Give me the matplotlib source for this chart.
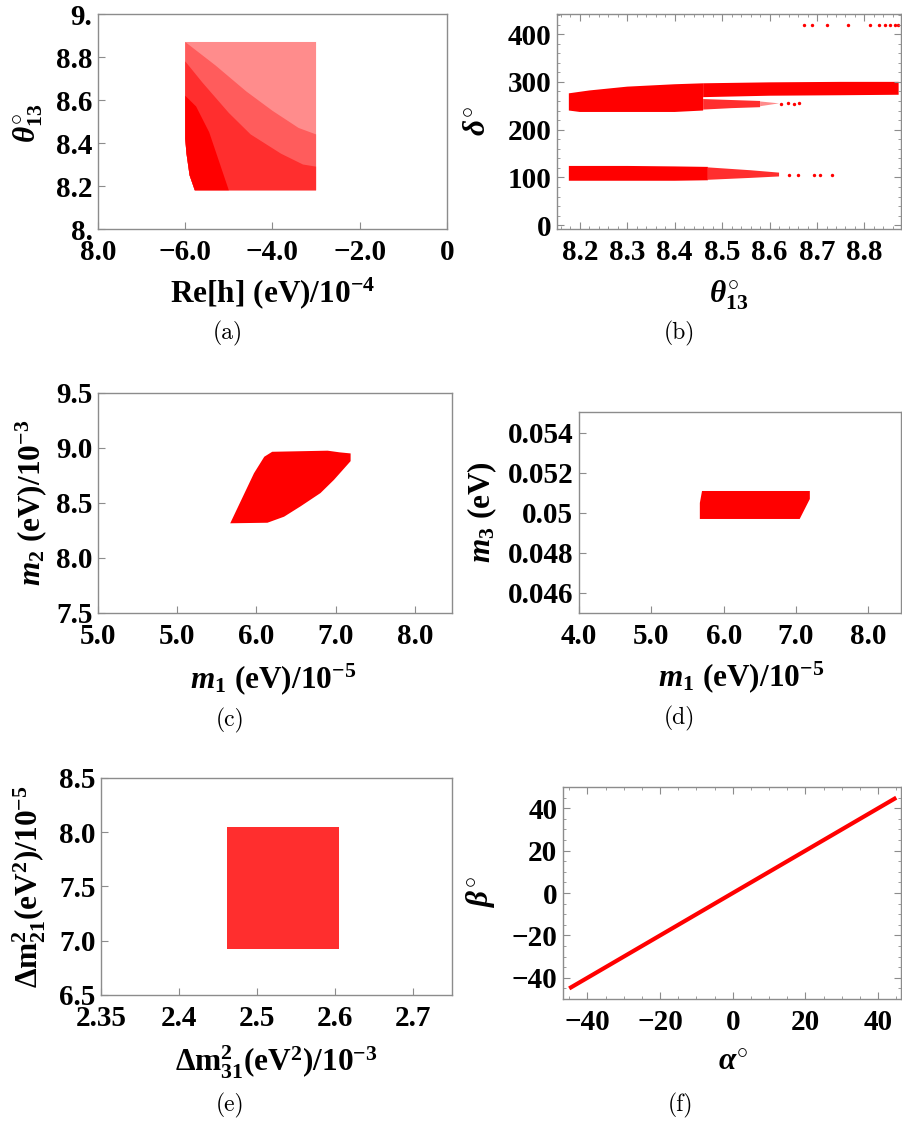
import matplotlib
matplotlib.use("Agg")
import matplotlib.pyplot as plt
from matplotlib.ticker import MultipleLocator

plt.rcParams['font.family'] = ['Liberation Serif', 'DejaVu Serif']
plt.rcParams['font.weight'] = 'bold'
plt.rcParams['mathtext.fontset'] = 'custom'
plt.rcParams['mathtext.rm'] = 'Liberation Serif:bold'
plt.rcParams['mathtext.it'] = 'Liberation Serif:italic:bold'
plt.rcParams['mathtext.bf'] = 'Liberation Serif:bold'

RED = '#ff0000'
MID = '#ff2e2e'
MID2 = '#ff5c5c'
LIGHT = '#ff8c8c'
GRAY = '#8c8c8c'

# ---- (a) Re[h] vs theta13: scatter cloud outlines, by point density
a_sparse_x = [-6.0, -3.0, -3.0, -5.78, -5.9, -5.97, -6.0]
a_sparse_y = [8.87, 8.87, 8.18, 8.18, 8.25, 8.35, 8.42]
a_mid2_x = [-6.0, -5.3, -4.6, -4.0, -3.4, -3.0, -3.0, -5.78, -5.9, -5.97, -6.0]
a_mid2_y = [8.87, 8.76, 8.64, 8.55, 8.47, 8.44, 8.18, 8.18, 8.25, 8.35, 8.42]
a_mid_x = [-6.0, -5.6, -5.0, -4.5, -3.8, -3.3, -3.0, -3.0, -5.78, -5.9, -5.97, -6.0]
a_mid_y = [8.78, 8.68, 8.54, 8.44, 8.35, 8.3, 8.29, 8.18, 8.18, 8.25, 8.35, 8.42]
a_dense_x = [-6.0, -5.75, -5.45, -5.2, -5.0, -5.78, -5.9, -5.97, -6.0]
a_dense_y = [8.62, 8.57, 8.45, 8.3, 8.18, 8.18, 8.25, 8.35, 8.42]

# ---- (b) theta13 vs delta: bands
b_up_x = [8.177, 8.22, 8.3, 8.4, 8.46, 8.46, 8.4, 8.3, 8.2, 8.177]
b_up_y = [276, 282, 290, 295, 297, 240, 237, 237, 237, 240]
b_branch_x = [8.46, 8.6, 8.75, 8.872, 8.872, 8.75, 8.6, 8.46]
b_branch_y = [297, 299, 300, 300, 273, 272, 271, 268]
b_low_branch_x = [8.46, 8.52, 8.58, 8.58, 8.52, 8.46]
b_low_branch_y = [264, 262, 260, 247, 245, 242]
b_low_tail_x = [8.58, 8.62, 8.58]
b_low_tail_y = [259, 255, 249]
b_band100_x = [8.177, 8.3, 8.4, 8.47, 8.47, 8.4, 8.3, 8.177]
b_band100_y = [124, 124, 123, 122, 94, 93, 93, 93]
b_band100_tail_x = [8.47, 8.56, 8.62, 8.62, 8.56, 8.47]
b_band100_tail_y = [121, 115, 110, 102, 99, 95]
b_dots_x = [8.624, 8.638, 8.652, 8.662,
            8.64, 8.66, 8.694, 8.706, 8.731,
            8.672, 8.690, 8.721, 8.766, 8.812, 8.831, 8.843, 8.854, 8.864, 8.871]
b_dots_y = [254, 255, 254, 255,
            106, 106, 104, 104, 104,
            420, 420, 420, 420, 420, 420, 420, 420, 420, 420]

# ---- (c) m1 vs m2
c_x = [5.67, 5.97, 6.10, 6.20, 6.90, 7.05, 7.19, 7.19, 6.98, 6.81, 6.56, 6.35, 6.14, 5.67]
c_y = [8.315, 8.77, 8.92, 8.965, 8.975, 8.96, 8.95, 8.88, 8.71, 8.59, 8.47, 8.375, 8.32, 8.315]

# ---- (d) m1 vs m3
d_x = [5.67, 5.67, 5.70, 7.19, 7.19, 7.05]
d_y = [0.0497, 0.0505, 0.0511, 0.0511, 0.0507, 0.0497]

# ---- (e) dm31 vs dm21
e_x = [2.462, 2.605, 2.605, 2.462]
e_y = [6.92, 6.92, 8.05, 8.05]

# ---- (f) alpha vs beta
f_alpha = [-45, 45]
f_beta = [-45, 45]

TICK_FS = 21
LAB_FS = 22.5

fig = plt.figure(figsize=(9.02, 11.22), dpi=100)


def style(ax, allsides=False):
    for s in ax.spines.values():
        s.set_color(GRAY)
        s.set_linewidth(1.0)
    ax.tick_params(which='major', direction='in', length=5, width=0.8, color=GRAY,
                   labelsize=TICK_FS, pad=4, top=allsides, right=allsides)
    ax.tick_params(axis='x', which='major', pad=7)
    ax.tick_params(which='minor', direction='in', length=2.5, width=0.6, color=GRAY,
                   top=allsides, right=allsides)
    for lab in ax.get_xticklabels() + ax.get_yticklabels():
        lab.set_fontweight('bold')


def labels(ax, xl, xpos, yl, ypos):
    ax.text(xpos[0], xpos[1], xl, transform=ax.transAxes, ha='center', va='center',
            fontsize=LAB_FS)
    ax.text(ypos[0], ypos[1], yl, transform=ax.transAxes, ha='center', va='center',
            fontsize=LAB_FS, rotation=90)


# (a)
ax = fig.add_axes([0.1086, 0.7959, 0.3869, 0.1916])
ax.fill(a_sparse_x, a_sparse_y, color=LIGHT, lw=0)
ax.fill(a_mid2_x, a_mid2_y, color=MID2, lw=0)
ax.fill(a_mid_x, a_mid_y, color=MID, lw=0)
ax.fill(a_dense_x, a_dense_y, color=RED, lw=0)
ax.set_xlim(-8, 0)
ax.set_ylim(8, 9)
ax.set_xticks([-8, -6, -4, -2, 0], ['8.0', '\u22126.0', '\u22124.0', '\u22122.0', '0'])
ax.set_yticks([8, 8.2, 8.4, 8.6, 8.8, 9], ['8.', '8.2', '8.4', '8.6', '8.8', '9.'])
style(ax)
labels(ax, r'$\mathrm{Re[h]\ (eV)/10^{-4}}$', (0.5, -0.30),
       r'$\theta^{\circ}_{13}$', (-0.20, 0.49))

# (b)
ax = fig.add_axes([0.6175, 0.7959, 0.3814, 0.1916])
ax.fill(b_up_x, b_up_y, color=RED, lw=0)
ax.fill(b_branch_x, b_branch_y, color=RED, lw=0)
ax.fill(b_low_branch_x, b_low_branch_y, color=MID, lw=0)
ax.fill(b_low_tail_x, b_low_tail_y, color=LIGHT, lw=0)
ax.fill(b_band100_x, b_band100_y, color=RED, lw=0)
ax.fill(b_band100_tail_x, b_band100_tail_y, color=MID, lw=0)
ax.scatter(b_dots_x, b_dots_y, s=6, color=RED, lw=0)
ax.set_xlim(8.152, 8.877)
ax.set_ylim(-8, 442)
ax.set_xticks([8.2, 8.3, 8.4, 8.5, 8.6, 8.7, 8.8])
ax.set_yticks([0, 100, 200, 300, 400])
ax.xaxis.set_minor_locator(MultipleLocator(0.02))
ax.yaxis.set_minor_locator(MultipleLocator(20))
style(ax, allsides=True)
labels(ax, r'$\theta^{\circ}_{13}$', (0.5, -0.31),
       r'$\delta^{\circ}$', (-0.23, 0.50))

# (c)
ax = fig.add_axes([0.1086, 0.4537, 0.3925, 0.1961])
ax.fill(c_x, c_y, color=RED, lw=0)
ax.set_xlim(4, 8.47)
ax.set_ylim(7.5, 9.5)
ax.set_xticks([4, 5, 6, 7, 8], ['5.0', '5.0', '6.0', '7.0', '8.0'])
ax.set_yticks([7.5, 8.0, 8.5, 9.0, 9.5], ['7.5', '8.0', '8.5', '9.0', '9.5'])
style(ax)
labels(ax, r'$m_1\ \mathrm{(eV)/10^{-5}}$', (0.494, -0.30),
       r'$m_2\ \mathrm{(eV)/10^{-3}}$', (-0.19, 0.5))

# (d)
ax = fig.add_axes([0.6419, 0.4537, 0.3570, 0.1791])
ax.fill(d_x, d_y, color=RED, lw=0)
ax.set_xlim(4, 8.45)
ax.set_ylim(0.045, 0.05505)
ax.set_xticks([4, 5, 6, 7, 8], ['4.0', '5.0', '6.0', '7.0', '8.0'])
ax.set_yticks([0.046, 0.048, 0.05, 0.052, 0.054],
              ['0.046', '0.048', '0.05', '0.052', '0.054'])
style(ax)
labels(ax, r'$m_1\ \mathrm{(eV)/10^{-5}}$', (0.503, -0.32),
       r'$m_3\ \mathrm{(eV)}$', (-0.30, 0.5))

# (e)
ax = fig.add_axes([0.1120, 0.1132, 0.3891, 0.1934])
ax.fill(e_x, e_y, color=MID, lw=0)
ax.set_xlim(2.3, 2.75)
ax.set_ylim(6.5, 8.5)
ax.set_xticks([2.3, 2.4, 2.5, 2.6, 2.7], ['2.35', '2.4', '2.5', '2.6', '2.7'])
ax.set_yticks([6.5, 7.0, 7.5, 8.0, 8.5], ['6.5', '7.0', '7.5', '8.0', '8.5'])
style(ax)
labels(ax, r'$\mathrm{\Delta m^2_{31}(eV^2)/10^{-3}}$', (0.5, -0.31),
       r'$\mathrm{\Delta m^2_{21}(eV^2)/10^{-5}}$', (-0.205, 0.498))

# (f)
ax = fig.add_axes([0.6242, 0.1096, 0.3747, 0.1889])
ax.plot(f_alpha, f_beta, color=RED, lw=3.0, solid_capstyle='butt')
ax.set_xlim(-46.7, 46.3)
ax.set_ylim(-50, 50)
ax.set_xticks([-40, -20, 0, 20, 40], ['\u221240', '\u221220', '0', '20', '40'])
ax.set_yticks([-40, -20, 0, 20, 40], ['\u221240', '\u221220', '0', '20', '40'])
ax.xaxis.set_minor_locator(MultipleLocator(5))
ax.yaxis.set_minor_locator(MultipleLocator(5))
style(ax, allsides=True)
labels(ax, r'$\alpha^{\circ}$', (0.503, -0.30),
       r'$\beta^{\circ}$', (-0.245, 0.505))

# captions
for lab, xp, yp in [('(a)', 228, 333), ('(b)', 679, 333), ('(c)', 230, 720),
                    ('(d)', 679, 718), ('(e)', 230, 1105), ('(f)', 681, 1105)]:
    fig.text(xp / 902, 1 - yp / 1122, lab, ha='center', va='center',
             fontsize=17, family='cmr10', fontweight='normal')

fig.savefig('out.png', dpi=100)
